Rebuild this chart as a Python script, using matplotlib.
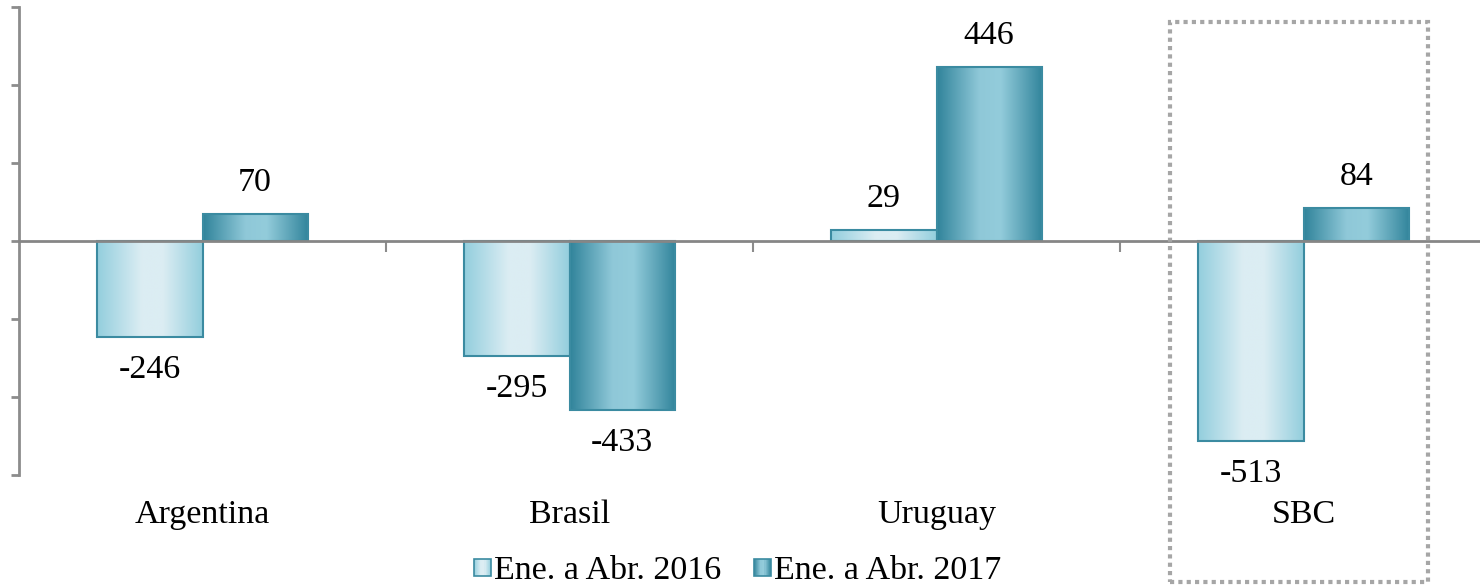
import numpy as np
import matplotlib
matplotlib.use("Agg")
from matplotlib import pyplot as plt
from matplotlib.colors import LinearSegmentedColormap
from matplotlib.patches import Rectangle
from matplotlib.legend_handler import HandlerBase

categories = ["Argentina", "Brasil", "Uruguay", "SBC"]
series_names = ["Ene. a Abr. 2016", "Ene. a Abr. 2017"]
vals_2016 = [-246, -295, 29, -513]
vals_2017 = [70, -433, 446, 84]

plt.rcParams["font.family"] = ["Liberation Serif", "DejaVu Serif"]

light_cmap = LinearSegmentedColormap.from_list(
    "light", [(0, "#93cedd"), (0.42, "#dbedf3"), (0.62, "#dcedf3"), (1, "#93cedd")])
dark_cmap = LinearSegmentedColormap.from_list(
    "dark", [(0, "#31849b"), (0.4, "#8fc8d8"), (0.6, "#93ccdb"), (1, "#31849b")])
edge_col = "#3b8ba1"

fig = plt.figure(figsize=(14.8, 5.87), dpi=100)
ax = fig.add_axes([19 / 1480, 1 - 475 / 587, 1468 / 1480, 468 / 587])

x = np.arange(len(categories)) + 0.5
w = 0.287
grad = np.linspace(0, 1, 256).reshape(1, -1)


def gradient_bars(xs, vals, cmap):
    bars = ax.bar(xs, vals, width=w, facecolor="none", edgecolor=edge_col,
                  linewidth=1.5, zorder=3)
    for b in bars:
        x0, y0 = b.get_x(), b.get_y()
        bw, bh = b.get_width(), b.get_height()
        im = ax.imshow(grad, cmap=cmap, aspect="auto", zorder=2,
                       extent=[x0, x0 + bw, y0, y0 + bh], interpolation="bilinear")
        im.set_clip_path(b)
    return bars


gradient_bars(x - w / 2, vals_2016, light_cmap)
gradient_bars(x + w / 2, vals_2017, dark_cmap)

ax.set_xlim(0, 4)
ax.set_ylim(-600, 600)
ax.set_yticks(np.arange(-600, 601, 200))
ax.set_yticklabels([])
ax.set_xticks([1, 2, 3])
ax.set_xticklabels([])
for s in ["top", "right"]:
    ax.spines[s].set_visible(False)
ax.spines["bottom"].set_position(("data", 0))
ax.spines["bottom"].set_color("#868686")
ax.spines["bottom"].set_linewidth(2)
ax.spines["bottom"].set_zorder(4)
ax.spines["left"].set_color("#8c8c8c")
ax.spines["left"].set_linewidth(2)
ax.tick_params(axis="y", colors="#8c8c8c", length=6, width=2)
ax.tick_params(axis="x", colors="#8c8c8c", length=8, width=1.5, direction="out")

fs = 24.5
for xi, v in zip(x - w / 2, vals_2016):
    off = 31 if v >= 0 else -33
    ax.annotate(str(v), (xi, v), xytext=(0, off), textcoords="offset pixels",
                ha="center", va="center", fontsize=fs)
for xi, v in zip(x + w / 2, vals_2017):
    off = 31 if v >= 0 else -33
    ax.annotate(str(v), (xi, v), xytext=(0, off), textcoords="offset pixels",
                ha="center", va="center", fontsize=fs)

for xi, c in zip(x, categories):
    ax.annotate(c, (xi, 0), xycoords=("data", "axes fraction"), xytext=(0, -40),
                textcoords="offset pixels", ha="center", va="center", fontsize=fs)


class GradHandler(HandlerBase):
    def __init__(self, cmap):
        super().__init__()
        self.cmap = cmap

    def create_artists(self, legend, orig_handle, xdescent, ydescent, width,
                       height, fontsize, trans):
        size = height * 0.72
        x0 = width - size
        y0 = (height - size) / 2 - ydescent
        arts = []
        n = 16
        for i in range(n):
            r = Rectangle((x0 + size * i / n, y0), size / n + 0.3, size,
                          facecolor=self.cmap((i + 0.5) / n), edgecolor="none",
                          transform=trans)
            arts.append(r)
        arts.append(Rectangle((x0, y0), size, size, facecolor="none",
                              edgecolor=edge_col, linewidth=1.2, transform=trans))
        return arts


h1 = Rectangle((0, 0), 1, 1)
h2 = Rectangle((0, 0), 1, 1)
fig.legend([h1, h2], series_names, loc="center",
           bbox_to_anchor=(736 / 1480, 1 - 571 / 587), ncol=2, frameon=False,
           fontsize=fs, handlelength=0.6, handletextpad=0.1, columnspacing=0.85,
           borderpad=0.1,
           handler_map={h1: GradHandler(light_cmap), h2: GradHandler(dark_cmap)})

box = Rectangle((1170 / 1480, 1 - 582 / 587), 258 / 1480, 560 / 587,
                transform=fig.transFigure, facecolor="none", edgecolor="#a6a6a6",
                linewidth=3, linestyle=(0, (1, 1)), zorder=5)
fig.patches.append(box)

fig.savefig("out.png", dpi=100)
